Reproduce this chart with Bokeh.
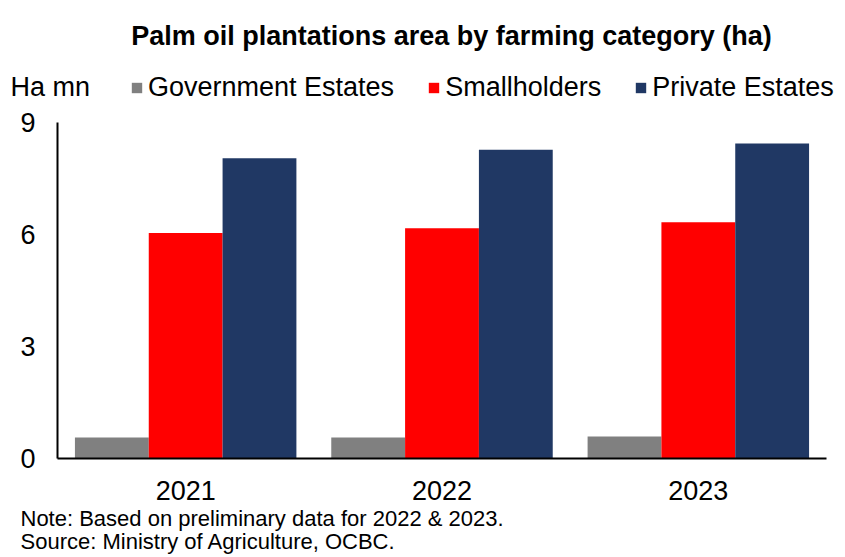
from bokeh.plotting import figure
from bokeh.models import (Range1d, FixedTicker, Label, Legend, LegendItem,
                          ColumnDataSource)
from bokeh.embed import file_html
from bokeh.resources import INLINE

# ---- data ----
years = ["2021", "2022", "2023"]
government = [0.56, 0.56, 0.59]
smallholders = [6.04, 6.17, 6.33]
private = [8.04, 8.27, 8.44]
y_ticks = [0, 3, 6, 9]
series_names = ["Government Estates", "Smallholders", "Private Estates"]
colors = ["#808080", "#FF0000", "#203864"]
title_text = "Palm oil plantations area by farming category (ha)"
unit_label = "Ha mn"
notes = ["Note: Based on preliminary data for 2022 & 2023.",
         "Source: Ministry of Agriculture, OCBC."]

FONT = "Liberation Sans"
W, H = 845, 557
# pixel box of the plotting area (axes) inside the canvas
AX_L, AX_R, AX_T, AX_B = 57, 826, 122, 458
Y_MAX = 9.0
N = len(years)
PX_PER_X = (AX_R - AX_L) / N
PX_PER_Y = (AX_B - AX_T) / Y_MAX


def sx(px):
    return (px - AX_L) / PX_PER_X


def sy(py):
    return (AX_B - py) / PX_PER_Y


centers = [i + 0.5 for i in range(N)]
bw = 0.288
src = ColumnDataSource(dict(
    xg=[c - bw for c in centers], xs=centers, xp=[c + bw for c in centers],
    gov=government, small=smallholders, priv=private))

p = figure(x_range=Range1d(sx(0), sx(W)), y_range=Range1d(sy(H), sy(0)),
           width=W, height=H, output_backend="svg", toolbar_location=None,
           min_border_left=0, min_border_right=0, min_border_top=0, min_border_bottom=0)
p.outline_line_color = None
p.xgrid.visible = False
p.ygrid.visible = False
p.background_fill_color = "white"
p.border_fill_color = "white"

r_gov = p.vbar(x="xg", top="gov", width=bw, source=src, fill_color=colors[0], line_color=None)
r_small = p.vbar(x="xs", top="small", width=bw, source=src, fill_color=colors[1], line_color=None)
r_priv = p.vbar(x="xp", top="priv", width=bw, source=src, fill_color=colors[2], line_color=None)

xa, ya = p.xaxis[0], p.yaxis[0]
for ax in (xa, ya):
    ax.fixed_location = 0
    ax.axis_line_color = "black"
    ax.axis_line_width = 2
    ax.major_tick_line_color = None
    ax.minor_tick_line_color = None
    ax.major_tick_out = 0
    ax.major_tick_in = 0
    ax.major_label_text_font = FONT
    ax.major_label_text_font_size = "27px"
    ax.major_label_text_color = "black"

ya.ticker = FixedTicker(ticks=y_ticks)
ya.bounds = (0, Y_MAX)
ya.major_label_standoff = 22
xa.ticker = FixedTicker(ticks=centers)
xa.major_label_overrides = {c: y for c, y in zip(centers, years)}
xa.bounds = (0, N)
xa.major_label_standoff = 22

# title
p.add_layout(Label(x=sx(451), y=sy(35), text=title_text, text_font=FONT,
                   text_font_size="27px", text_font_style="bold",
                   text_align="center", text_baseline="middle", text_color="black"))
# unit label
p.add_layout(Label(x=sx(10), y=sy(86), text=unit_label, text_font=FONT,
                   text_font_size="27px", text_align="left", text_baseline="middle",
                   text_color="black"))
# notes
for i, t in enumerate(notes):
    p.add_layout(Label(x=sx(20), y=sy(518 + 23 * i), text=t, text_font=FONT,
                       text_font_size="22px", text_align="left", text_baseline="middle",
                       text_color="black"))

legend = Legend(items=[LegendItem(label=series_names[0], renderers=[r_gov]),
                       LegendItem(label=series_names[1], renderers=[r_small]),
                       LegendItem(label=series_names[2], renderers=[r_priv])],
                orientation="horizontal", location=(130, H - 86 - 17),
                glyph_width=13, glyph_height=13, label_standoff=5, spacing=33,
                padding=0, margin=0, border_line_color=None,
                background_fill_alpha=0, label_text_font=FONT,
                label_text_font_size="27px", label_text_color="black")
p.add_layout(legend, "center")

open("out.html", "w").write(file_html(p, INLINE))
